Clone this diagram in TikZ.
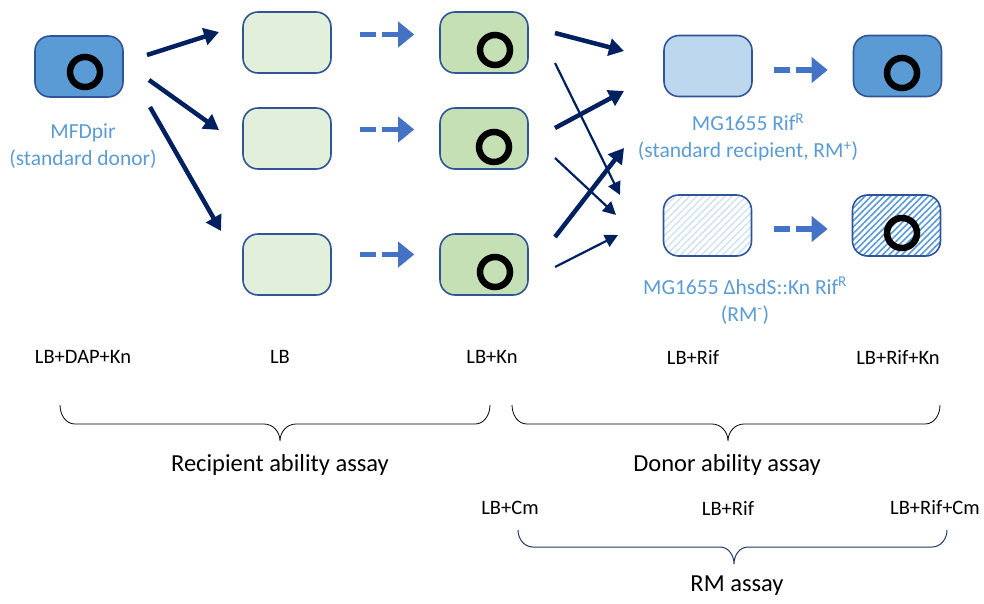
\documentclass[tikz,border=0pt]{standalone}
\usepackage{fontspec}
\setmainfont{Carlito}
\usetikzlibrary{arrows.meta,patterns.meta}
\definecolor{navy}{RGB}{0,32,96}
\definecolor{boxline}{RGB}{47,85,151}
\definecolor{donorblue}{RGB}{91,155,213}
\definecolor{palegreen}{RGB}{226,239,218}
\definecolor{midgreen}{RGB}{197,224,180}
\definecolor{paleblue}{RGB}{189,215,238}
\definecolor{labelblue}{RGB}{91,155,213}
\definecolor{dashblue}{RGB}{68,114,196}
\definecolor{bracenavy}{RGB}{31,56,100}
\definecolor{hatchlight}{RGB}{205,225,243}
\tikzset{
  cell/.style={draw=boxline, line width=1.6pt, rounded corners=15pt, minimum width=88pt, minimum height=61pt, inner sep=0pt},
  plasmid/.style={circle, draw=black, line width=6.5pt, minimum size=30pt, inner sep=0pt},
  bigarrow/.style={draw=navy, line width=4.5pt, -{Triangle[length=15pt,width=17pt]}},
  thinarrow/.style={draw=navy, line width=2.2pt, -{Triangle[length=13pt,width=13pt]}},
  dasharrow/.style={draw=dashblue, line width=5.5pt, dash pattern=on 16pt off 6pt, -{Triangle[length=16pt,width=25pt]}},
  bluelabel/.style={text=labelblue, font=\fontsize{21.5}{27}\selectfont, align=center},
  medium/.style={font=\fontsize{20.5}{24}\selectfont},
  assay/.style={font=\fontsize{24.5}{29}\selectfont},
}
\begin{document}
\begin{tikzpicture}[x=1pt,y=-1pt]
\useasboundingbox (0,0) rectangle (984,603);
% donor
\node[cell, fill=donorblue] (donor) at (79,66.5) {};
\node[plasmid] (pd) at (85,72) {};
\node[bluelabel] (donorlab) at (83,146) {MFDpir\\(standard donor)};
% column 2
\node[cell, fill=palegreen] (a1) at (287,42.5) {};
\node[cell, fill=palegreen] (a2) at (287,138.5) {};
\node[cell, fill=palegreen] (a3) at (287,264.5) {};
% column 3
\node[cell, fill=midgreen] (b1) at (484,42.5) {};
\node[cell, fill=midgreen] (b2) at (484,138.5) {};
\node[cell, fill=midgreen] (b3) at (484,264.5) {};
\node[plasmid] (pb1) at (495,50) {};
\node[plasmid] (pb2) at (494,147) {};
\node[plasmid] (pb3) at (495,272) {};
% recipients
\node[cell, fill=paleblue] (r1) at (708,66) {};
\node[cell, fill=donorblue] (t1) at (897.5,66) {};
\node[plasmid] (pt1) at (902,73) {};
\node[cell, preaction={fill=white}, pattern={Lines[angle=45,distance=5pt,line width=1.3pt]}, pattern color=hatchlight] (r2) at (707.5,225.5) {};
\node[cell, preaction={fill=white}, pattern={Lines[angle=45,distance=4.5pt,line width=1.6pt]}, pattern color=donorblue] (t2) at (896.5,225.5) {};
\node[plasmid] (pt2) at (902,233) {};
\node[bluelabel] (r1lab) at (748,137.5) {MG1655 Rif\textsuperscript{R}\\(standard recipient, RM\textsuperscript{+})};
\node[bluelabel] (r2lab) at (745,300.5) {MG1655 ΔhsdS::Kn Rif\textsuperscript{R}\\(RM\textsuperscript{-})};
% donor arrows
\coordinate (d1s) at (147,55); \coordinate (d1e) at (219,32);
\coordinate (d2s) at (149,80); \coordinate (d2e) at (219,130);
\coordinate (d3s) at (150,107); \coordinate (d3e) at (221,231);
\draw[bigarrow] (d1s) -- (d1e);
\draw[bigarrow] (d2s) -- (d2e);
\draw[bigarrow] (d3s) -- (d3e);
% dashed arrows
\draw[dasharrow] ([xshift=28pt,yshift=8pt]a1.east) -- ([xshift=-25pt,yshift=8pt]b1.west);
\draw[dasharrow] ([xshift=28pt,yshift=9pt]a2.east) -- ([xshift=-25pt,yshift=9pt]b2.west);
\draw[dasharrow] ([xshift=28pt,yshift=10pt]a3.east) -- ([xshift=-25pt,yshift=10pt]b3.west);
\draw[dasharrow] ([xshift=21pt,yshift=-4pt]r1.east) -- ([xshift=-25pt,yshift=-4pt]t1.west);
\draw[dasharrow] ([xshift=22pt,yshift=-3.5pt]r2.east) -- ([xshift=-24pt,yshift=-3.5pt]t2.west);
% crossing arrows
\coordinate (c1s) at (555,33); \coordinate (c1e) at (624,51);
\coordinate (c2s) at (555,128); \coordinate (c2e) at (624,91);
\coordinate (c3s) at (555,237); \coordinate (c3e) at (624,148);
\coordinate (c4s) at (555,63); \coordinate (c4e) at (620,195);
\coordinate (c5s) at (555,158); \coordinate (c5e) at (616,215);
\coordinate (c6s) at (555,267); \coordinate (c6e) at (618,235);
\draw[thinarrow] (c4s) -- (c4e);
\draw[thinarrow] (c5s) -- (c5e);
\draw[thinarrow] (c6s) -- (c6e);
\draw[bigarrow] (c1s) -- (c1e);
\draw[bigarrow] (c2s) -- (c2e);
\draw[bigarrow] (c3s) -- (c3e);
% media labels
\node[medium] (m1) at (83,357) {LB+DAP+Kn};
\node[medium] (m2) at (280,357) {LB};
\node[medium] (m3) at (492,357) {LB+Kn};
\node[medium] (m4) at (693,357) {LB+Rif};
\node[medium] (m5) at (898,357) {LB+Rif+Kn};
% braces
\draw[line width=0.8pt] (60,405) to[out=-90,in=180] (75,424) -- (264,424) to[out=0,in=90] (280,441) to[out=90,in=180] (296,424) -- (475,424) to[out=0,in=-90] (490,405);
\draw[line width=0.8pt] (512,405) to[out=-90,in=180] (527,424) -- (712,424) to[out=0,in=90] (728,441) to[out=90,in=180] (744,424) -- (925,424) to[out=0,in=-90] (940,405);
\node[assay] (ra) at (280,465) {Recipient ability assay};
\node[assay] (da) at (727,465) {Donor ability assay};
\node[medium] (n1) at (510,508) {LB+Cm};
\node[medium] (n2) at (728,508) {LB+Rif};
\node[medium] (n3) at (935,508) {LB+Rif+Cm};
\draw[bracenavy, line width=1pt] (518,530) to[out=-90,in=180] (533,547) -- (720,547) to[out=0,in=90] (734,564) to[out=90,in=180] (748,547) -- (932,547) to[out=0,in=-90] (947,530);
\node[assay] (rm) at (737,586) {RM assay};
\end{tikzpicture}
\end{document}
